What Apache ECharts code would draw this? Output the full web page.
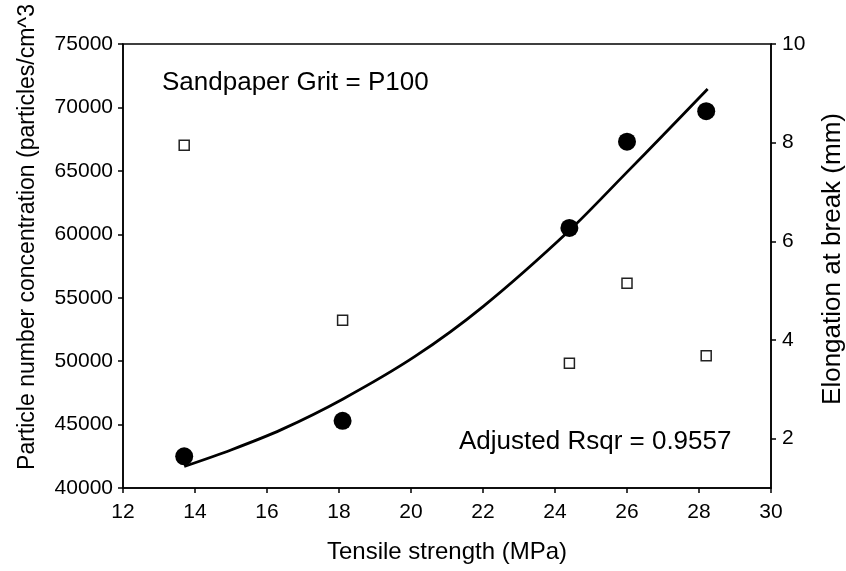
<!DOCTYPE html>
<html>
<head>
<meta charset="utf-8">
<script src="https://cdn.jsdelivr.net/npm/echarts@6/dist/echarts.min.js"></script>
<style>
html,body{margin:0;padding:0;background:#fff;}
#chart{width:846px;height:571px;}
</style>
</head>
<body>
<div id="chart"></div>
<script>
// tensile strength (MPa)
var strength = [13.7, 18.1, 24.4, 26.0, 28.2];
// particle number concentration (left axis)
var particles = [42500, 45300, 60500, 67300, 69700];
// elongation at break (right axis)
var elongation = [7.95, 4.40, 3.53, 5.15, 3.68];
// regression curve
var fitX = [13.7, 15.0, 16.4, 18.1, 20.1, 22.0, 24.4, 26.0, 27.0, 28.24];
var fitY = [41700, 43000, 44600, 47000, 50350, 54300, 60300, 64900, 67800, 71450];
var elongTicks = [2, 4, 6, 8, 10];

var font = '"Liberation Sans", Arial, sans-serif';
var myChart = echarts.init(document.getElementById('chart'));

function pairs(xs, ys){
	var out = [];
	for (var i = 0; i < xs.length; i++) out.push([xs[i], ys[i]]);
	return out;
}

var axisCommon = {
	axisLine: {show: true, onZero: false, lineStyle: {color: '#000', width: 1.5}},
	axisTick: {show: true, inside: false, length: 5, lineStyle: {color: '#000', width: 1.5}},
	splitLine: {show: false}
};
var labelStyle = {color: '#000', fontSize: 21, fontFamily: font};

var option = {
	animation: false,
	backgroundColor: '#fff',
	grid: {
		left: 123, right: 75, top: 44, bottom: 83,
		show: true, borderColor: '#000', borderWidth: 1.5, backgroundColor: 'transparent'
	},
	xAxis: Object.assign({}, axisCommon, {
		type: 'value', min: 12, max: 30, interval: 2,
		name: 'Tensile strength (MPa)', nameLocation: 'middle', nameGap: 52,
		nameTextStyle: {color: '#000', fontSize: 24, fontFamily: font},
		axisLabel: Object.assign({}, labelStyle, {margin: 14})
	}),
	yAxis: [
		Object.assign({}, axisCommon, {
			type: 'value', min: 40000, max: 75000, interval: 5000, position: 'left',
			axisLabel: Object.assign({}, labelStyle, {margin: 10, formatter: function(v){ return String(v); }})
		}),
		Object.assign({}, axisCommon, {
			type: 'value', min: 1, max: 10, position: 'right',
			axisTick: {show: true, inside: false, length: 5, customValues: elongTicks, lineStyle: {color: '#000', width: 1.5}},
			axisLabel: Object.assign({}, labelStyle, {margin: 11, customValues: elongTicks})
		})
	],
	graphic: [
		{type: 'text', x: 28, y: 237, rotation: Math.PI / 2,
			style: {text: 'Particle number concentration (particles/cm^3', font: '23px ' + font, fill: '#000', align: 'center', verticalAlign: 'middle'}},
		{type: 'text', x: 833, y: 259, rotation: Math.PI / 2,
			style: {text: 'Elongation at break (mm)', font: '26px ' + font, fill: '#000', align: 'center', verticalAlign: 'middle'}},
		{type: 'text', x: 162, y: 83,
			style: {text: 'Sandpaper Grit = P100', font: '26px ' + font, fill: '#000', align: 'left', verticalAlign: 'middle'}},
		{type: 'text', x: 459, y: 442,
			style: {text: 'Adjusted Rsqr = 0.9557', font: '26px ' + font, fill: '#000', align: 'left', verticalAlign: 'middle'}}
	],
	series: [
		{
			type: 'line', yAxisIndex: 0, data: pairs(fitX, fitY),
			smooth: 0.3, showSymbol: false, symbol: 'none',
			lineStyle: {color: '#000', width: 2.8}, z: 2
		},
		{
			type: 'scatter', yAxisIndex: 0, data: pairs(strength, particles),
			symbol: 'circle', symbolSize: 18,
			itemStyle: {color: '#000', opacity: 1}, z: 3
		},
		{
			type: 'scatter', yAxisIndex: 1, data: pairs(strength, elongation),
			symbol: 'rect', symbolSize: 10,
			itemStyle: {color: '#fff', borderColor: '#222', borderWidth: 1.5, opacity: 1}, z: 3
		}
	]
};
myChart.setOption(option);
</script>
</body>
</html>
